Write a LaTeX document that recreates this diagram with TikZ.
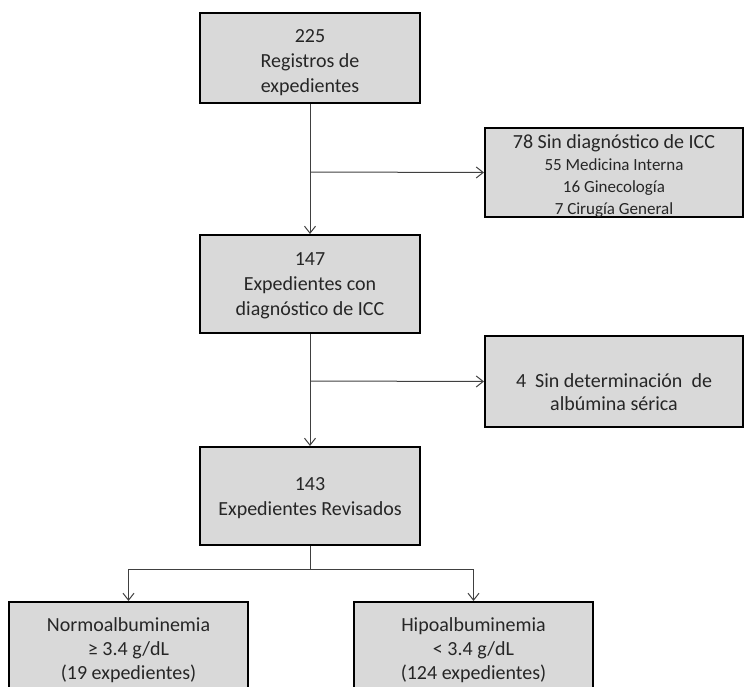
\documentclass[tikz,border=0pt]{standalone}
\usepackage{fontspec}
\setmainfont{Carlito}
\usetikzlibrary{arrows.meta}
\definecolor{boxfill}{HTML}{D9D9D9}
\definecolor{txt}{HTML}{262626}
\definecolor{conn}{HTML}{404040}
\tikzset{
  box/.style={draw=black, line width=2pt, fill=boxfill, inner sep=0pt},
  boxtext/.style={text=txt, align=center, inner sep=0pt, font=\fontsize{20}{25}\selectfont},
  conn/.style={draw=conn, line width=1pt, -{Straight Barb[length=7pt,width=11pt,line width=1pt]}},
  plain/.style={draw=conn, line width=1pt}
}
\begin{document}
\begin{tikzpicture}[x=1pt,y=-1pt]
\useasboundingbox (0,0) rectangle (745,687);
\clip (0,0) rectangle (745,687);
% boxes
\node[box, minimum width=220pt, minimum height=90pt] (b1) at (310,58) {};
\node[box, minimum width=220pt, minimum height=98pt] (b2) at (310,284) {};
\node[box, minimum width=220pt, minimum height=98pt] (b3) at (310,496) {};
\node[box, minimum width=258pt, minimum height=89pt] (s1) at (614,172.5) {};
\node[box, minimum width=258pt, minimum height=91pt] (s2) at (614,381.5) {};
\node[box, minimum width=239pt, minimum height=120pt] (l) at (128.5,662) {};
\node[box, minimum width=239pt, minimum height=120pt] (r) at (473.5,662) {};
% texts
\node[boxtext] (b1t) at (310,63) {225\\Registros de\\expedientes};
\node[boxtext] (b2t) at (310,286) {147\\Expedientes con\\diagnóstico de ICC};
\node[boxtext] (b3t) at (310,498) {143\\Expedientes Revisados};
\node[boxtext, font=\fontsize{17}{22}\selectfont] (s1t) at (614,176)
  {{\fontsize{20}{22}\selectfont 78 Sin diagnóstico de ICC}\\55 Medicina Interna\\16 Ginecología\\7 Cirugía General};
\node[boxtext, font=\fontsize{20}{23}\selectfont] (s2t) at (614,392)
  {4\ \ Sin determinación\ \ de\\albúmina sérica};
\node[boxtext, font=\fontsize{20}{24}\selectfont] (lt) at (128.5,650)
  {Normoalbuminemia\\≥ 3.4 g/dL\\(19 expedientes)};
\node[boxtext, font=\fontsize{20}{24}\selectfont] (rt) at (473.5,650)
  {Hipoalbuminemia\\< 3.4 g/dL\\(124 expedientes)};
% connectors
\coordinate (j1) at (310,172);
\coordinate (j2) at (310,381);
\coordinate (j3) at (310,569);
\draw[conn] (b1.south) -- (b2.north);
\draw[conn] (j1) -- (s1.west);
\draw[conn] (b2.south) -- (b3.north);
\draw[conn] (j2) -- (s2.west);
\draw[plain] (b3.south) -- (j3);
\draw[conn] (j3) -| (l.north);
\draw[conn] (j3) -| (r.north);
\end{tikzpicture}
\end{document}
